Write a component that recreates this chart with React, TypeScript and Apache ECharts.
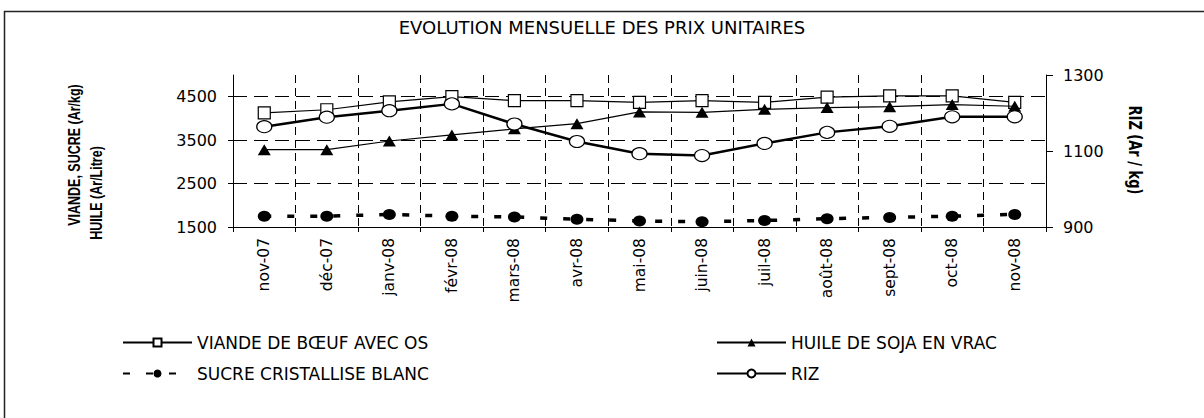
import React, { useEffect, useRef } from "react";
import * as echarts from "echarts";

const months = ["nov-07", "déc-07", "janv-08", "févr-08", "mars-08", "avr-08", "mai-08", "juin-08", "juil-08", "août-08", "sept-08", "oct-08", "nov-08"];
const viande = [4130, 4200, 4380, 4500, 4410, 4410, 4370, 4410, 4370, 4490, 4520, 4520, 4370];
const huile = [3280, 3280, 3480, 3620, 3760, 3880, 4150, 4140, 4210, 4250, 4270, 4320, 4280];
const sucre = [1750, 1750, 1790, 1750, 1730, 1680, 1640, 1620, 1650, 1690, 1720, 1750, 1790];
const riz = [1164, 1189, 1206, 1224, 1171, 1125, 1093, 1088, 1120, 1149, 1165, 1190, 1190];
const leftTicks = [1500, 2500, 3500, 4500];
const rightTicks = [900, 1100, 1300];

const FONT = "DejaVu Sans";
const BOLD_FONT = "Liberation Sans";

export default function App() {
  const ref = useRef<HTMLDivElement>(null);
  useEffect(() => {
    if (!ref.current) return;
    const chart = echarts.init(ref.current, null, { renderer: "svg" });
    const black = "#000";
    chart.setOption({
      animation: false,
      backgroundColor: "#fff",
      textStyle: { fontFamily: FONT, color: black },
      title: {
        text: "EVOLUTION MENSUELLE DES PRIX UNITAIRES",
        left: "center",
        top: 18,
        padding: 0,
        textStyle: { fontFamily: FONT, fontSize: 18, fontWeight: "normal", color: black },
      },
      graphic: [
        {
          type: "rect",
          shape: { x: 4.5, y: 11.5, width: 1400, height: 600 },
          style: { fill: "none", stroke: "#222", lineWidth: 1.5 },
          silent: true,
        },
        {
          type: "text",
          x: 74,
          y: 155,
          rotation: Math.PI / 2,
          scaleY: 1.35,
          style: { text: "VIANDE, SUCRE (Ar/kg)", fontFamily: BOLD_FONT, fontSize: 12.5, fontWeight: "bold", fill: black, align: "center", verticalAlign: "middle" },
        },
        {
          type: "text",
          x: 96,
          y: 193,
          rotation: Math.PI / 2,
          scaleY: 1.35,
          style: { text: "HUILE (Ar/Litre)", fontFamily: BOLD_FONT, fontSize: 12.5, fontWeight: "bold", fill: black, align: "center", verticalAlign: "middle" },
        },
        {
          type: "text",
          x: 1135,
          y: 150,
          rotation: -Math.PI / 2,
          scaleY: 1.3,
          style: { text: "RIZ (Ar / kg)", fontFamily: FONT, fontSize: 13, fontWeight: "bold", fill: black, align: "center", verticalAlign: "middle" },
        },
      ],
      legend: [
        {
          data: ["VIANDE DE BŒUF AVEC OS", "SUCRE CRISTALLISE BLANC"],
          left: 122,
          top: 334,
          padding: 0,
          orient: "vertical",
          itemWidth: 69,
          itemHeight: 10,
          itemGap: 14,
          textStyle: { fontFamily: FONT, fontSize: 17, color: black },
        },
        {
          data: ["HUILE DE SOJA EN VRAC", "RIZ"],
          left: 716,
          top: 334,
          padding: 0,
          orient: "vertical",
          itemWidth: 69,
          itemHeight: 10,
          itemGap: 14,
          textStyle: { fontFamily: FONT, fontSize: 17, color: black },
        },
      ],
      grid: { left: 233, right: 158, top: 75, bottom: 191 },
      xAxis: {
        type: "category",
        data: months,
        boundaryGap: true,
        axisLine: { lineStyle: { color: black, width: 1 } },
        axisTick: { show: true, alignWithLabel: false, length: 5, lineStyle: { color: black } },
        axisLabel: { rotate: 90, margin: 11, fontSize: 15.5, fontFamily: FONT, color: black, interval: 0 },
        splitLine: { show: true, lineStyle: { color: black, width: 1, type: [8, 5] } },
      },
      yAxis: [
        {
          type: "value",
          position: "left",
          min: 1500,
          max: 5000,
          interval: 500,
          axisLine: { show: true, lineStyle: { color: black, width: 1 } },
          axisTick: { show: true, length: 5, customValues: leftTicks, lineStyle: { color: black } },
          axisLabel: {
            customValues: leftTicks,
            margin: 16,
            fontSize: 16,
            fontFamily: FONT,
            color: black,
            formatter: (v: number) => (leftTicks.indexOf(v) >= 0 ? String(v) : ""),
          },
          splitLine: { show: true, lineStyle: { color: black, width: 1, type: [14, 7] } },
        },
        {
          type: "value",
          position: "right",
          min: 900,
          max: 1300,
          interval: 200,
          axisLine: { show: true, lineStyle: { color: black, width: 1 } },
          axisTick: { show: true, length: 7, lineStyle: { color: black } },
          axisLabel: {
            margin: 17,
            fontSize: 16,
            fontFamily: FONT,
            color: black,
            formatter: (v: number) => (rightTicks.indexOf(v) >= 0 ? String(v) : ""),
          },
          splitLine: { show: false },
        },
      ],
      series: [
        {
          name: "VIANDE DE BŒUF AVEC OS",
          type: "line",
          data: viande,
          yAxisIndex: 0,
          symbol: "rect",
          symbolSize: 12,
          itemStyle: { color: "#fff", borderColor: black, borderWidth: 1.2 },
          lineStyle: { color: black, width: 1.2 },
          z: 2,
        },
        {
          name: "HUILE DE SOJA EN VRAC",
          type: "line",
          data: huile,
          yAxisIndex: 0,
          symbol: "triangle",
          symbolSize: [13, 11],
          itemStyle: { color: black, borderColor: black, borderWidth: 0 },
          lineStyle: { color: black, width: 1.2 },
          z: 3,
        },
        {
          name: "SUCRE CRISTALLISE BLANC",
          type: "line",
          data: sucre,
          yAxisIndex: 0,
          symbol: "circle",
          symbolSize: [13, 11],
          itemStyle: { color: black, borderColor: black, borderWidth: 0 },
          lineStyle: { color: black, width: 3.5, type: [7, 16] },
          z: 4,
        },
        {
          name: "RIZ",
          type: "line",
          data: riz,
          yAxisIndex: 1,
          symbol: "circle",
          symbolSize: [15, 12],
          itemStyle: { color: "#fff", borderColor: black, borderWidth: 1.2 },
          lineStyle: { color: black, width: 2.5 },
          z: 5,
        },
      ],
    });
    return () => chart.dispose();
  }, []);
  return <div ref={ref} style={{ position: "fixed", left: 0, top: 0, width: 1204, height: 418 }} />;
}
